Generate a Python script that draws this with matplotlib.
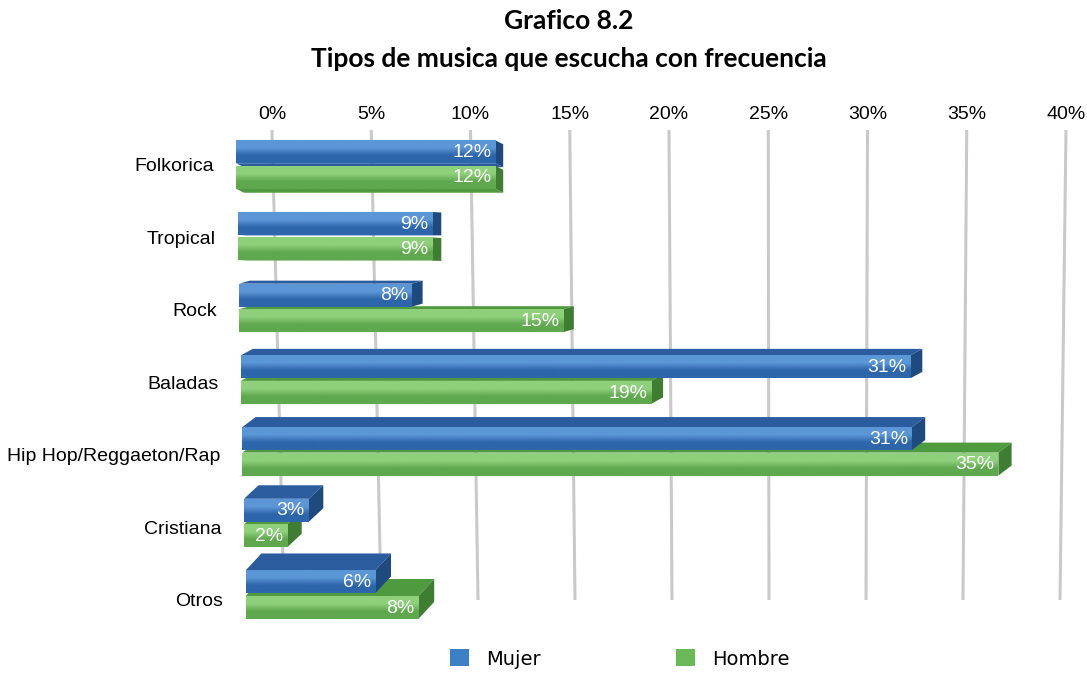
import numpy as np
import matplotlib
matplotlib.use("Agg")
import matplotlib.pyplot as plt
from matplotlib.patches import Polygon, Patch
from matplotlib.colors import LinearSegmentedColormap
import matplotlib.transforms as mtransforms

# datos
categorias = ["Folkorica", "Tropical", "Rock", "Baladas",
              "Hip Hop/Reggaeton/Rap", "Cristiana", "Otros"]
mujer = [12, 9, 8, 31, 31, 3, 6]
hombre = [12, 9, 15, 19, 35, 2, 8]
ticks = [0, 5, 10, 15, 20, 25, 30, 35, 40]

W, H = 1087, 673
fig = plt.figure(figsize=(W / 100, H / 100), dpi=100)

# ejes de fondo: rejilla y etiquetas superiores
ax_g = fig.add_axes([272 / W, (H - 600) / H, 794 / W, 470 / H])
ax_g.set_xlim(0, 40)
ax_g.set_ylim(0, 1)
for v in ticks:
    xb = 12 / (794 / 40) + v * (776 / 794)   # leve perspectiva
    ax_g.plot([v, xb], [1, 0], color="#c9c9c9", lw=2.2, clip_on=False,
              solid_capstyle="butt")
ax_g.xaxis.tick_top()
ax_g.set_xticks(ticks)
ax_g.set_xticklabels([f"{v}%" for v in ticks], fontsize=14,
                     family="Liberation Sans")
ax_g.tick_params(axis="x", length=0, pad=5)
ax_g.set_yticks([])
for s in ax_g.spines.values():
    s.set_visible(False)
ax_g.patch.set_visible(False)

# ejes de las barras
sx = 21.6   # px por unidad
sy = 71.7   # px por fila
ax = fig.add_axes([236 / W, (H - (164.5 + 7 * sy)) / H, sx * 40 / W, 8 * sy / H])
ax.set_xlim(0, 40)
ax.set_ylim(7, -1)
ax.patch.set_visible(False)
for s in ax.spines.values():
    s.set_visible(False)
ax.set_xticks([])

estilos = {
    "m": dict(top="#5b96d6", bot="#2d66aa", side="#2a5c9e", cap="#1f4a80"),
    "h": dict(top="#8fd07c", bot="#5fa84e", side="#4f993f", cap="#3f7d33"),
}


def barra3d(i, yc, h, val, est, z):
    x0 = 1.6 * i / sx
    dx = (8 + 1.3 * i) / sx
    dy = (4 - 3.5 * i) / sy
    y0, y1 = yc - h / 2, yc + h / 2
    x1 = x0 + val
    if dy < 0:
        cara = [(x0, y0), (x1, y0), (x1 + dx, y0 + dy), (x0 + dx, y0 + dy)]
    else:
        cara = [(x0, y1), (x1, y1), (x1 + dx, y1 + dy), (x0 + dx, y1 + dy)]
    ax.add_patch(Polygon(cara, closed=True, fc=est["side"], ec="none", zorder=z))
    lado = [(x1, y0), (x1 + dx, y0 + dy), (x1 + dx, y1 + dy), (x1, y1)]
    ax.add_patch(Polygon(lado, closed=True, fc=est["cap"], ec="none", zorder=z))
    b = ax.barh(yc, val, left=x0, height=h, color=est["bot"], zorder=z + 0.1)[0]
    cmap = LinearSegmentedColormap.from_list(
        "g", [est["top"], est["top"], est["bot"], est["bot"]])
    grad = np.linspace(0, 1, 64).reshape(-1, 1)
    im = ax.imshow(grad, cmap=cmap, aspect="auto", extent=(x0, x1, y1, y0),
                   zorder=z + 0.2, interpolation="bilinear")
    im.set_clip_path(b)
    ax.text(x1 - 4 / sx, yc + 0.01, f"{val}%", ha="right", va="center",
            color="white", fontsize=14, family="Liberation Sans", zorder=z + 0.3)


h = 0.32
for i in range(len(categorias)):
    dy = 4 - 3.5 * i
    zm, zh = (3, 2) if dy < 0 else (2, 3)
    barra3d(i, i - 0.178, h, mujer[i], estilos["m"], zm)
    barra3d(i, i + 0.178, h, hombre[i], estilos["h"], zh)

ax.set_xlim(0, 40)
ax.set_ylim(7, -1)
ax.set_yticks(range(len(categorias)))
ax.set_yticklabels(categorias, fontsize=14, family="Liberation Sans")
ax.tick_params(axis="y", length=0, pad=16)
for i, lab in enumerate(ax.get_yticklabels()):
    lab.set_transform(lab.get_transform() + mtransforms.ScaledTranslation(
        1.6 * i / 100, -0.8 * i / 100, fig.dpi_scale_trans))

# titulo
fig.text(0.523, 1 - 21 / H, "Grafico 8.2", ha="center", va="center",
         fontsize=19, weight="bold", family="Lato")
fig.text(0.523, 1 - 59 / H, "Tipos de musica que escucha con frecuencia",
         ha="center", va="center", fontsize=19, weight="bold", family="Lato")

# leyenda
handles = [Patch(fc="#3d7fc4", ec="none", label="Mujer"),
           Patch(fc="#6ab858", ec="none", label="Hombre")]
fig.legend(handles=handles, loc="center", bbox_to_anchor=(620 / W, 14 / H),
           ncol=2, frameon=False, fontsize=14, handlelength=0.95,
           handleheight=0.95, handletextpad=0.9, columnspacing=6.95)

fig.savefig("out.png", dpi=100)
